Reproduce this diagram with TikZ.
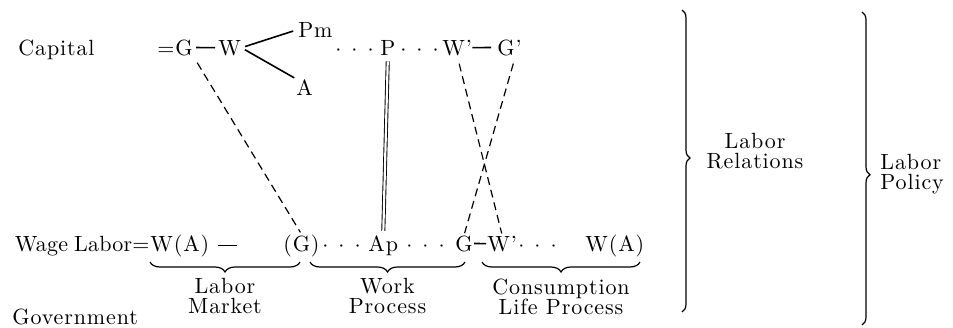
\documentclass[tikz,border=0pt]{standalone}
\usepackage{fontspec}
\setmainfont{lmroman10-regular}[Extension=.otf, LetterSpace=4]
\usepackage{tikz}
\usetikzlibrary{decorations.pathreplacing, positioning}

\newcommand{\tdots}{$\cdot$\hspace{5pt}$\cdot$\hspace{5pt}$\cdot$}

\begin{document}
\begin{tikzpicture}[
    x=0.5pt, y=-0.5pt,
    term/.style={inner sep=0pt, anchor=base west, font=\fontsize{11}{13}\selectfont},
    lbl/.style={inner sep=0pt, align=center, font=\fontsize{11}{10}\selectfont},
    link/.style={line width=0.8pt},
    dashlink/.style={line width=0.6pt, dash pattern=on 4pt off 2.5pt},
    dbl/.style={line width=0.45pt, double, double distance=1.1pt},
    ubrace/.style={decorate, decoration={brace, mirror, amplitude=5pt}, line width=0.6pt},
    rbrace/.style={decorate, decoration={brace, amplitude=4pt}, line width=0.6pt}
]
    \useasboundingbox (0,0) rectangle (953,327);

    % Capital circuit
    \node[term] (capital) at (18,55) {Capital};
    \node[term] (g1) at (157,55) {=G};
    \node[term] (w1) at (218,55) {W};
    \node[term] (pm) at (298,37) {Pm};
    \node[term] (a1) at (296,95) {A};
    \node[term] (dots1) at (335,55) {\tdots};
    \node[term] (p1) at (380,55) {P};
    \node[term] (dots2) at (400,55) {\tdots};
    \node[term] (w2) at (442,55) {W’};
    \node[term] (g2) at (497,55) {G’};

    % Wage labor circuit
    \node[term] (wa1) at (150,251) {W(A)};
    \node[term, anchor=base east] (wage) at (wa1.base west) {\addfontfeatures{LetterSpace=1}Wage\hspace{3pt}Labor=};
    \node[term] (gpar) at (283,251) {(G)};
    \node[term] (dots3) at (322,251) {\tdots};
    \node[term] (ap) at (368,251) {Ap};
    \node[term] (dots4) at (406,251) {\tdots};
    \node[term] (g3) at (455,251) {G};
    \node[term] (w3) at (487,251) {W’};
    \node[term] (dots5) at (518,251) {\tdots};
    \node[term] (wa2) at (585,251) {W(A)};

    \node[term] (gov) at (12,324) {Government};

    % Right hand labels
    \node[lbl] (relations) at (755,151) {Labor\\Relations};
    \node[lbl, align=left, anchor=west] (policy) at (880,174) {Labor\\Policy};

    % Connections
    \draw[link, shorten <=1.5pt, shorten >=1.5pt] (g1.east) -- (w1.west);
    \draw[link, shorten <=2pt, shorten >=2.5pt] (w1.east) -- (pm.west);
    \draw[link, shorten <=2pt, shorten >=1pt] (w1.east) -- (a1.north west);
    \draw[link, shorten <=0pt, shorten >=3pt] (w2.east) -- (g2.west);
    \draw[link, shorten <=4pt, shorten >=23pt] (wa1.east) -- (gpar.west);
    \draw[link, shorten <=0.5pt, shorten >=0.5pt] (g3.east) -- (w3.west);
    \draw[dbl, shorten <=3pt, shorten >=2pt] (p1.south) -- (ap.north);
    \draw[dashlink, shorten <=4pt, shorten >=1pt] (g1.south east) -- (gpar.north);
    \draw[dashlink, shorten <=4pt, shorten >=1pt] (w2.south) -- (w3.north);
    \draw[dashlink, shorten <=4pt, shorten >=1pt] ([xshift=3pt]g2.south) -- (g3.north);

    % Underbraces
    \coordinate (ulev) at (0,262);
    \draw[ubrace] (wa1.west |- ulev) -- node[lbl, below=8pt] (market) {Labor\\Market} (300,262);
    \draw[ubrace] (310,262) -- node[lbl, below=8pt] (work) {Work\\Process} (465,262);
    \draw[ubrace] (482,262) -- node[lbl, below=8pt] (life) {Consumption\\Life Process} (640,262);

    % Right braces
    \coordinate (rb1a) at (682,10);
    \coordinate (rb1b) at (682,312);
    \coordinate (rb2a) at (862,12);
    \coordinate (rb2b) at (862,325);
    \draw[rbrace, decoration={aspect=0.49}] (rb1a) -- (rb1b);
    \draw[rbrace, decoration={aspect=0.52}] (rb2a) -- (rb2b);
\end{tikzpicture}
\end{document}
